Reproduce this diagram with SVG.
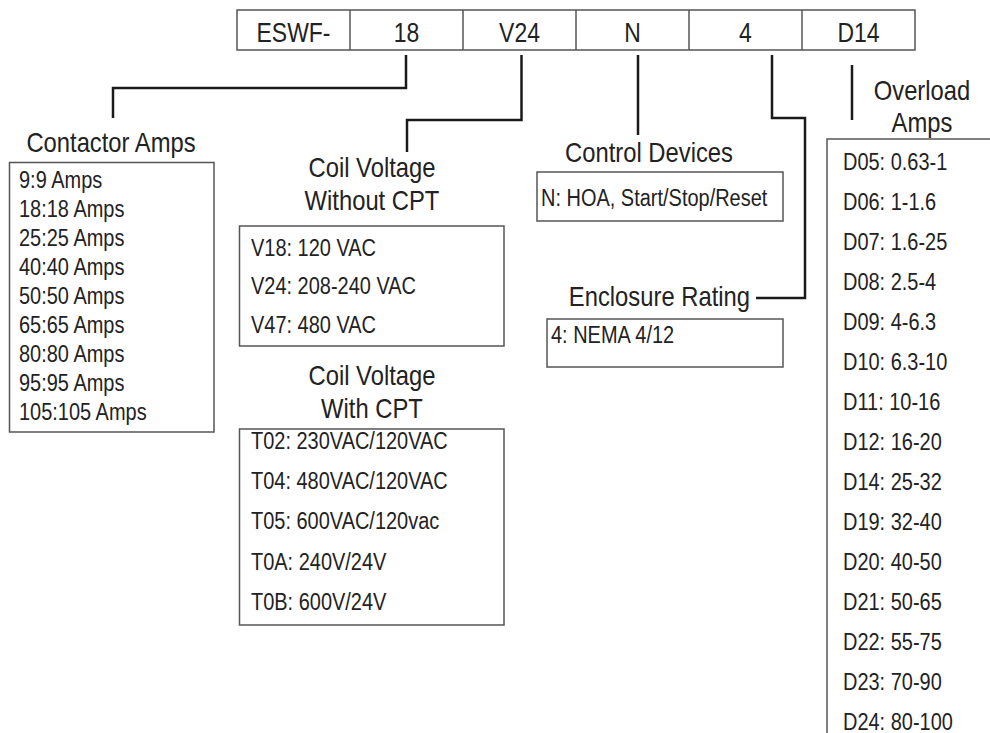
<svg xmlns="http://www.w3.org/2000/svg" width="990" height="733" viewBox="0 0 990 733">
<style>
text{font-family:"Liberation Sans",Arial,sans-serif;fill:#222}
.hd{font-size:27px;text-anchor:middle}
.tt{font-size:28px}
.c{text-anchor:middle}
.it{font-size:23.5px}
.box{fill:#fff;stroke:#555;stroke-width:1.5}
.cn{fill:none;stroke:#1a1a1a;stroke-width:2.5;stroke-linejoin:miter}
</style>
<rect width="990" height="733" fill="#fff"/>
<g id="header">
<rect class="box" x="237" y="10" width="678" height="40"/>
<line class="box" x1="350" y1="10" x2="350" y2="50"/>
<line class="box" x1="463" y1="10" x2="463" y2="50"/>
<line class="box" x1="576" y1="10" x2="576" y2="50"/>
<line class="box" x1="689" y1="10" x2="689" y2="50"/>
<line class="box" x1="802" y1="10" x2="802" y2="50"/>
<g transform="scale(0.85,1)">
<text class="hd" x="345.29" y="42">ESWF-</text>
<text class="hd" x="478.24" y="42">18</text>
<text class="hd" x="611.18" y="42">V24</text>
<text class="hd" x="744.12" y="42">N</text>
<text class="hd" x="877.06" y="42">4</text>
<text class="hd" x="1010" y="42">D14</text>
</g>
</g>
<g id="connectors">
<polyline class="cn" points="406,55 406,88 113,88 113,118"/>
<polyline class="cn" points="521.5,55 521.5,120 407,120 407,152"/>
<polyline class="cn" points="638,55 638,135"/>
<polyline class="cn" points="772,55 772,118 805,118 805,298 756,298"/>
<polyline class="cn" points="852,65 852,120"/>
</g>
<g id="contactor">
<rect class="box" x="9.5" y="162.5" width="204.5" height="269.5"/>
<g transform="scale(0.85,1)">
<text class="tt c" x="130.59" y="152">Contactor Amps</text>
<text class="it" x="22.35" y="188">9:9 Amps</text>
<text class="it" x="22.35" y="217">18:18 Amps</text>
<text class="it" x="22.35" y="246">25:25 Amps</text>
<text class="it" x="22.35" y="275">40:40 Amps</text>
<text class="it" x="22.35" y="304">50:50 Amps</text>
<text class="it" x="22.35" y="333">65:65 Amps</text>
<text class="it" x="22.35" y="362">80:80 Amps</text>
<text class="it" x="22.35" y="391">95:95 Amps</text>
<text class="it" x="22.35" y="420">105:105 Amps</text>
</g>
</g>
<g id="coil-without">
<rect class="box" x="239.5" y="226" width="264.5" height="120"/>
<g transform="scale(0.85,1)">
<text class="tt c" x="437.65" y="177">Coil Voltage</text>
<text class="tt c" x="437.65" y="210">Without CPT</text>
<text class="it" x="295.29" y="256">V18: 120 VAC</text>
<text class="it" x="295.29" y="294.5">V24: 208-240 VAC</text>
<text class="it" x="295.29" y="333">V47: 480 VAC</text>
</g>
</g>
<g id="coil-with">
<rect class="box" x="239.5" y="429" width="264.5" height="196"/>
<g transform="scale(0.85,1)">
<text class="tt c" x="437.65" y="385">Coil Voltage</text>
<text class="tt c" x="437.65" y="418">With CPT</text>
<text class="it" x="295.29" y="449">T02: 230VAC/120VAC</text>
<text class="it" x="295.29" y="489">T04: 480VAC/120VAC</text>
<text class="it" x="295.29" y="529">T05: 600VAC/120vac</text>
<text class="it" x="295.29" y="570">T0A: 240V/24V</text>
<text class="it" x="295.29" y="610">T0B: 600V/24V</text>
</g>
</g>
<g id="control">
<rect class="box" x="537" y="172" width="246" height="49"/>
<g transform="scale(0.85,1)">
<text class="tt c" x="763.53" y="162">Control Devices</text>
<text class="it" x="636.47" y="206">N: HOA, Start/Stop/Reset</text>
</g>
</g>
<g id="enclosure">
<rect class="box" x="547" y="319" width="236" height="48"/>
<g transform="scale(0.85,1)">
<text class="tt" x="882.35" y="306" text-anchor="end">Enclosure Rating</text>
<text class="it" x="648.24" y="343">4: NEMA 4/12</text>
</g>
</g>
<g id="overload">
<rect class="box" x="827" y="139" width="200" height="640"/>
<g transform="scale(0.85,1)">
<text class="tt c" x="1084.71" y="100">Overload</text>
<text class="tt c" x="1084.71" y="132">Amps</text>
<text class="it" x="991.76" y="170">D05: 0.63-1</text>
<text class="it" x="991.76" y="210">D06: 1-1.6</text>
<text class="it" x="991.76" y="250">D07: 1.6-25</text>
<text class="it" x="991.76" y="290">D08: 2.5-4</text>
<text class="it" x="991.76" y="330">D09: 4-6.3</text>
<text class="it" x="991.76" y="370">D10: 6.3-10</text>
<text class="it" x="991.76" y="410">D11: 10-16</text>
<text class="it" x="991.76" y="450">D12: 16-20</text>
<text class="it" x="991.76" y="490">D14: 25-32</text>
<text class="it" x="991.76" y="530">D19: 32-40</text>
<text class="it" x="991.76" y="570">D20: 40-50</text>
<text class="it" x="991.76" y="610">D21: 50-65</text>
<text class="it" x="991.76" y="650">D22: 55-75</text>
<text class="it" x="991.76" y="690">D23: 70-90</text>
<text class="it" x="991.76" y="730">D24: 80-100</text>
</g>
</g>
</svg>
